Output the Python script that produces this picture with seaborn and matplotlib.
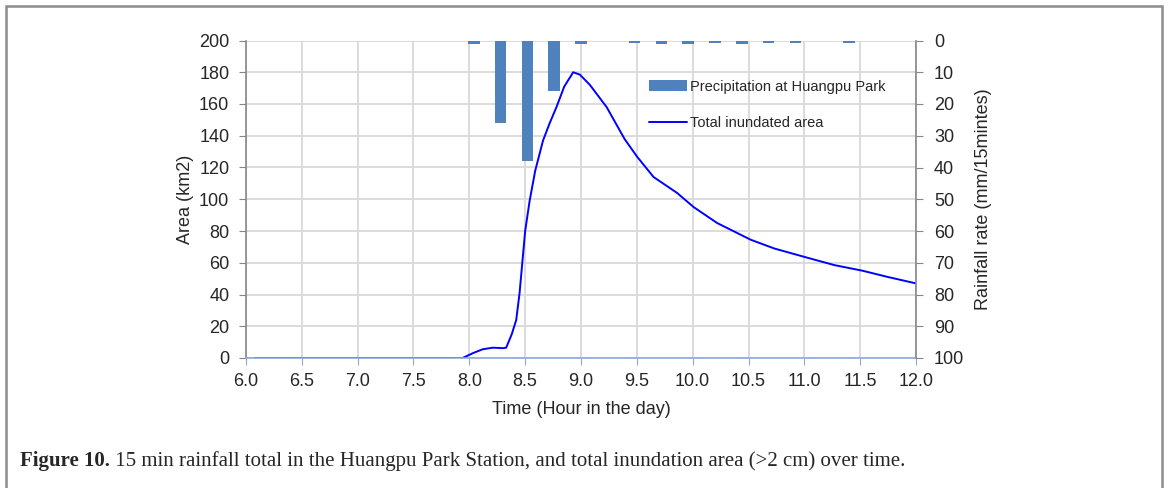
import matplotlib
matplotlib.use("Agg")
import numpy as np
import pandas as pd
import matplotlib.pyplot as plt
import seaborn as sns
from matplotlib.patches import Rectangle, Patch
from matplotlib.lines import Line2D
from matplotlib.ticker import FixedLocator, FormatStrFormatter

# ---- data ----
time_hours = [6.08, 7.0, 7.5, 7.94, 8.03, 8.12, 8.21, 8.30, 8.33, 8.38, 8.42, 8.45,
              8.50, 8.54, 8.59, 8.66, 8.72, 8.78, 8.85, 8.93, 8.99, 9.08, 9.23, 9.39,
              9.50, 9.65, 9.86, 10.01, 10.22, 10.52, 10.73, 11.01, 11.27, 11.52, 11.75, 12.0]
area_km2 = [0, 0, 0, 0, 3, 5.5, 6.5, 6.2, 6.5, 15, 24, 41,
            80, 99, 118, 137, 148, 158, 171, 180, 178.5, 172, 158, 138,
            127, 114, 104, 95, 85, 74.5, 69, 63.5, 58.5, 55, 51, 47]

bar_hours = [8.04, 8.28, 8.52, 8.76, 9.00, 9.24, 9.48, 9.72, 9.96, 10.20,
             10.44, 10.68, 10.92, 11.16, 11.40]
rain_mm = [1.2, 26.0, 38.0, 16.0, 1.2, 0.0, 0.7, 1.2, 1.2, 0.7,
           1.2, 0.7, 0.7, 0.0, 0.7]

x_ticks = [6.0, 6.5, 7.0, 7.5, 8.0, 8.5, 9.0, 9.5, 10.0, 10.5, 11.0, 11.5, 12.0]
area_ticks = [0, 20, 40, 60, 80, 100, 120, 140, 160, 180, 200]
rain_ticks = [0, 10, 20, 30, 40, 50, 60, 70, 80, 90, 100]

line_label = "Total inundated area"
bar_label = "Precipitation at Huangpu Park"
caption_bold = "Figure 10."
caption_rest = " 15 min rainfall total in the Huangpu Park Station, and total inundation area (>2 cm) over time."

# ---- style ----
sns.set_style("white")
plt.rcParams['font.family'] = ['Liberation Sans', 'DejaVu Sans']

BAR_C = '#4f81bd'
LINE_C = '#0000ff'
GRID_C = '#d9d9d9'
SPINE_C = '#868686'
XAX_C = '#8eaad8'
FS = 13

fig = plt.figure(figsize=(11.7, 4.88), dpi=100)
ax = fig.add_axes([246 / 1170, 1 - 358 / 488, (916 - 246) / 1170, (358 - 40.5) / 488])

line_df = pd.DataFrame({"time": time_hours, "area": area_km2})
sns.lineplot(data=line_df, x="time", y="area", ax=ax, color=LINE_C, lw=1.4,
             sort=False, legend=False)

ax2 = ax.twinx()
bar_df = pd.DataFrame({"time": bar_hours, "rain": rain_mm})
sns.barplot(data=bar_df, x="time", y="rain", ax=ax2, native_scale=True, orient="x",
            width=0.44, color=BAR_C, saturation=1, errorbar=None, linewidth=0)

ax.set_xlim(6.0, 12.0)
ax.set_ylim(0, 200)
ax2.set_ylim(100, 0)

ax.xaxis.set_major_locator(FixedLocator(x_ticks))
ax.xaxis.set_major_formatter(FormatStrFormatter('%.1f'))
ax.yaxis.set_major_locator(FixedLocator(area_ticks))
ax2.yaxis.set_major_locator(FixedLocator(rain_ticks))

ax.grid(True, color=GRID_C, lw=1.3)
ax.set_axisbelow(True)
ax2.grid(False)

for a in (ax, ax2):
    a.spines['top'].set_visible(False)
ax2.spines['left'].set_visible(False)
ax2.spines['bottom'].set_visible(False)
ax.spines['right'].set_visible(False)
ax.spines['left'].set_color(SPINE_C)
ax2.spines['right'].set_color(SPINE_C)
ax.spines['bottom'].set_color(XAX_C)
for s in ('left', 'bottom'):
    ax.spines[s].set_linewidth(1.2)
ax2.spines['right'].set_linewidth(1.2)

ax.tick_params(axis='y', length=5, color=SPINE_C, labelsize=FS, pad=7, left=True)
ax.tick_params(axis='x', length=5, color=XAX_C, labelsize=FS, pad=6, bottom=True)
ax2.tick_params(axis='y', length=5, color=SPINE_C, labelsize=FS, pad=8, right=True)

ax.set_xlabel("Time (Hour in the day)", fontsize=FS, labelpad=8)
ax.set_ylabel("Area (km2)", fontsize=FS, labelpad=4)
ax2.set_ylabel("Rainfall rate (mm/15mintes)", fontsize=FS, labelpad=8)

handles = [Patch(facecolor=BAR_C, edgecolor='none'),
           Line2D([], [], color=LINE_C, lw=1.4)]
ax2.legend(handles, [bar_label, line_label], loc='upper left',
           bbox_to_anchor=(0.582, 0.918), frameon=False, fontsize=10.5,
           handlelength=2.6, handletextpad=0.2, labelspacing=1.55)

# figure frame
fig.patches.append(Rectangle((6 / 1170, -0.2), (1162 - 6) / 1170, 1.2 - 6 / 488,
                             transform=fig.transFigure, fill=False,
                             edgecolor='#8c8c8c', lw=1.8))

# caption
r = fig.canvas.get_renderer()
CAP_FS = 15
t1 = fig.text(20 / 1170, 1 - 466 / 488, caption_bold, fontsize=CAP_FS, fontweight='bold',
              family=['Liberation Serif', 'DejaVu Serif'], va='baseline', ha='left')
bb = t1.get_window_extent(renderer=r)
fig.text(bb.x1 / fig.bbox.width, 1 - 466 / 488, caption_rest, fontsize=CAP_FS,
         family=['Liberation Serif', 'DejaVu Serif'], va='baseline', ha='left')

fig.savefig("out.png", dpi=100)
